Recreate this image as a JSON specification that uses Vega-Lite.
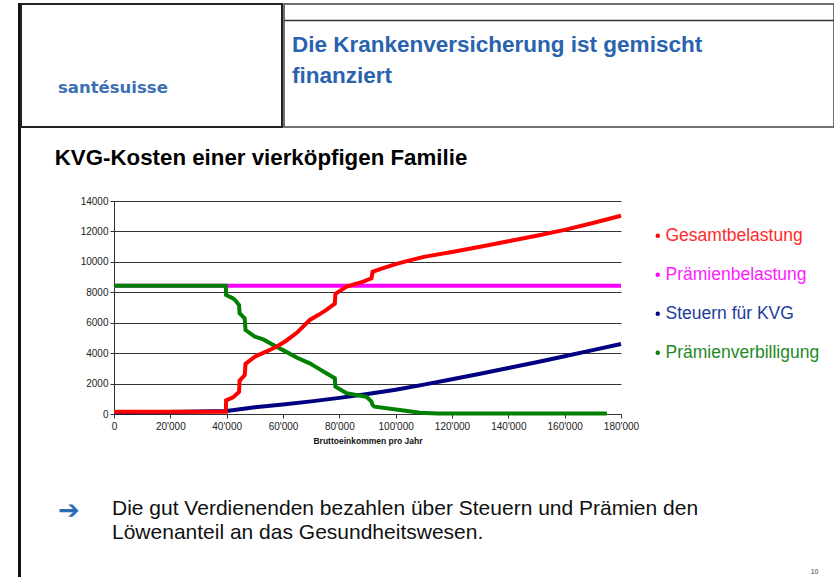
{
  "$schema": "https://vega.github.io/schema/vega-lite/v6.json",
  "background": "white",
  "padding": {"left": 18, "top": 3, "right": 0, "bottom": 0},
  "spacing": -3,
  "config": {
    "font": "Liberation Sans",
    "view": {"stroke": null},
    "concat": {"spacing": 0}
  },
  "hconcat": [
    {
      "width": 1,
      "height": 572,
      "view": {"stroke": "#111111", "strokeWidth": 2},
      "data": {"values": [{}]},
      "mark": {"type": "text", "text": ""}
    },
    {
      "spacing": 0,
      "vconcat": [
        {
          "spacing": 0,
          "hconcat": [
            {
              "width": 261,
              "height": 123,
              "view": {"stroke": "#222222", "strokeWidth": 2},
              "data": {"values": [{}]},
              "mark": {"type": "text", "text": ""},
              "title": {
                "text": "santésuisse",
                "orient": "top",
                "anchor": "start",
                "frame": "group",
                "dx": 37,
                "offset": -105.5,
                "baseline": "alphabetic",
                "font": "DejaVu Sans",
                "fontSize": 16.5,
                "fontWeight": "bold",
                "color": "#3D6FB5"
              }
            },
            {
              "width": 550,
              "height": 123,
              "view": {"stroke": "#444444", "strokeWidth": 1.5},
              "data": {"values": [{"v": 0.5}]},
              "mark": {"type": "point", "opacity": 0, "size": 0},
              "encoding": {
                "x": {
                  "field": "v",
                  "type": "quantitative",
                  "scale": {"domain": [0, 1]},
                  "axis": {
                    "orient": "top",
                    "offset": -16,
                    "title": null,
                    "labels": false,
                    "ticks": false,
                    "grid": false,
                    "domain": true,
                    "domainColor": "#333333",
                    "domainWidth": 1.5
                  }
                }
              },
              "title": {
                "text": ["Die Krankenversicherung ist gemischt", "finanziert"],
                "orient": "top",
                "anchor": "start",
                "frame": "group",
                "dx": 8,
                "offset": -101.25,
                "baseline": "alphabetic",
                "lineHeight": 31,
                "font": "Liberation Sans",
                "fontSize": 22.5,
                "fontWeight": "bold",
                "color": "#2962AE"
              }
            }
          ]
        },
        {
          "spacing": 0,
          "hconcat": [
            {
              "width": 33,
              "height": 1,
              "data": {"values": [{}]},
              "mark": {"type": "text", "text": ""}
            },
            {
              "width": 507,
              "height": 213,
              "title": {
                "text": ["", "KVG-Kosten einer vierköpfigen Familie"],
                "orient": "top",
                "anchor": "start",
                "frame": "group",
                "dx": -59.3,
                "offset": 9.2,
                "baseline": "alphabetic",
                "lineHeight": 18,
                "font": "Liberation Sans",
                "fontSize": 22.3,
                "fontWeight": "bold",
                "color": "#000000"
              },
              "data": {
                "values": [
                  {"s": "Prämienbelastung", "i": 1, "x": 0, "y": 8430},
                  {"s": "Prämienbelastung", "i": 2, "x": 180000, "y": 8430},
                  {"s": "Steuern für KVG", "i": 10, "x": 0, "y": 100},
                  {"s": "Steuern für KVG", "i": 11, "x": 20000, "y": 130},
                  {"s": "Steuern für KVG", "i": 12, "x": 40000, "y": 200},
                  {"s": "Steuern für KVG", "i": 13, "x": 50000, "y": 440},
                  {"s": "Steuern für KVG", "i": 14, "x": 60000, "y": 620},
                  {"s": "Steuern für KVG", "i": 15, "x": 70000, "y": 830},
                  {"s": "Steuern für KVG", "i": 16, "x": 80000, "y": 1060},
                  {"s": "Steuern für KVG", "i": 17, "x": 90000, "y": 1320},
                  {"s": "Steuern für KVG", "i": 18, "x": 100000, "y": 1600},
                  {"s": "Steuern für KVG", "i": 19, "x": 110000, "y": 1930},
                  {"s": "Steuern für KVG", "i": 20, "x": 120000, "y": 2280},
                  {"s": "Steuern für KVG", "i": 21, "x": 130000, "y": 2640},
                  {"s": "Steuern für KVG", "i": 22, "x": 140000, "y": 3020},
                  {"s": "Steuern für KVG", "i": 23, "x": 150000, "y": 3400},
                  {"s": "Steuern für KVG", "i": 24, "x": 160000, "y": 3800},
                  {"s": "Steuern für KVG", "i": 25, "x": 170000, "y": 4200},
                  {"s": "Steuern für KVG", "i": 26, "x": 180000, "y": 4600},
                  {"s": "Prämienverbilligung", "i": 40, "x": 0, "y": 8430},
                  {"s": "Prämienverbilligung", "i": 41, "x": 39700, "y": 8430},
                  {"s": "Prämienverbilligung", "i": 42, "x": 39800, "y": 7820},
                  {"s": "Prämienverbilligung", "i": 43, "x": 42300, "y": 7600},
                  {"s": "Prämienverbilligung", "i": 44, "x": 43000, "y": 7490},
                  {"s": "Prämienverbilligung", "i": 45, "x": 44400, "y": 7160},
                  {"s": "Prämienverbilligung", "i": 46, "x": 44600, "y": 6620},
                  {"s": "Prämienverbilligung", "i": 47, "x": 46400, "y": 6290},
                  {"s": "Prämienverbilligung", "i": 48, "x": 46700, "y": 5520},
                  {"s": "Prämienverbilligung", "i": 49, "x": 50000, "y": 5080},
                  {"s": "Prämienverbilligung", "i": 50, "x": 53000, "y": 4900},
                  {"s": "Prämienverbilligung", "i": 51, "x": 57700, "y": 4420},
                  {"s": "Prämienverbilligung", "i": 52, "x": 62000, "y": 4000},
                  {"s": "Prämienverbilligung", "i": 53, "x": 65000, "y": 3700},
                  {"s": "Prämienverbilligung", "i": 54, "x": 69500, "y": 3330},
                  {"s": "Prämienverbilligung", "i": 55, "x": 72500, "y": 3000},
                  {"s": "Prämienverbilligung", "i": 56, "x": 75400, "y": 2680},
                  {"s": "Prämienverbilligung", "i": 57, "x": 78400, "y": 2350},
                  {"s": "Prämienverbilligung", "i": 58, "x": 78600, "y": 1800},
                  {"s": "Prämienverbilligung", "i": 59, "x": 82600, "y": 1360},
                  {"s": "Prämienverbilligung", "i": 60, "x": 86000, "y": 1250},
                  {"s": "Prämienverbilligung", "i": 61, "x": 89600, "y": 1140},
                  {"s": "Prämienverbilligung", "i": 62, "x": 91400, "y": 810},
                  {"s": "Prämienverbilligung", "i": 63, "x": 91800, "y": 590},
                  {"s": "Prämienverbilligung", "i": 64, "x": 92500, "y": 480},
                  {"s": "Prämienverbilligung", "i": 65, "x": 101500, "y": 260},
                  {"s": "Prämienverbilligung", "i": 66, "x": 108600, "y": 90},
                  {"s": "Prämienverbilligung", "i": 67, "x": 115000, "y": 40},
                  {"s": "Prämienverbilligung", "i": 68, "x": 125000, "y": 25},
                  {"s": "Prämienverbilligung", "i": 69, "x": 175000, "y": 25},
                  {"s": "Gesamtbelastung", "i": 80, "x": 0, "y": 150},
                  {"s": "Gesamtbelastung", "i": 81, "x": 39700, "y": 150},
                  {"s": "Gesamtbelastung", "i": 82, "x": 39800, "y": 900},
                  {"s": "Gesamtbelastung", "i": 83, "x": 42300, "y": 1100},
                  {"s": "Gesamtbelastung", "i": 84, "x": 44400, "y": 1450},
                  {"s": "Gesamtbelastung", "i": 85, "x": 44600, "y": 2200},
                  {"s": "Gesamtbelastung", "i": 86, "x": 46400, "y": 2550},
                  {"s": "Gesamtbelastung", "i": 87, "x": 46700, "y": 3300},
                  {"s": "Gesamtbelastung", "i": 88, "x": 50000, "y": 3770},
                  {"s": "Gesamtbelastung", "i": 89, "x": 54000, "y": 4100},
                  {"s": "Gesamtbelastung", "i": 90, "x": 57700, "y": 4420},
                  {"s": "Gesamtbelastung", "i": 91, "x": 61000, "y": 4800},
                  {"s": "Gesamtbelastung", "i": 92, "x": 65000, "y": 5350},
                  {"s": "Gesamtbelastung", "i": 93, "x": 69500, "y": 6180},
                  {"s": "Gesamtbelastung", "i": 94, "x": 72500, "y": 6500},
                  {"s": "Gesamtbelastung", "i": 95, "x": 75400, "y": 6840},
                  {"s": "Gesamtbelastung", "i": 96, "x": 78400, "y": 7250},
                  {"s": "Gesamtbelastung", "i": 97, "x": 78600, "y": 7900},
                  {"s": "Gesamtbelastung", "i": 98, "x": 82600, "y": 8370},
                  {"s": "Gesamtbelastung", "i": 99, "x": 88500, "y": 8700},
                  {"s": "Gesamtbelastung", "i": 100, "x": 91400, "y": 8920},
                  {"s": "Gesamtbelastung", "i": 101, "x": 91800, "y": 9350},
                  {"s": "Gesamtbelastung", "i": 102, "x": 95000, "y": 9550},
                  {"s": "Gesamtbelastung", "i": 103, "x": 100000, "y": 9850},
                  {"s": "Gesamtbelastung", "i": 104, "x": 105000, "y": 10100},
                  {"s": "Gesamtbelastung", "i": 105, "x": 110000, "y": 10330},
                  {"s": "Gesamtbelastung", "i": 106, "x": 120000, "y": 10650},
                  {"s": "Gesamtbelastung", "i": 107, "x": 130000, "y": 10990},
                  {"s": "Gesamtbelastung", "i": 108, "x": 140000, "y": 11350},
                  {"s": "Gesamtbelastung", "i": 109, "x": 150000, "y": 11720},
                  {"s": "Gesamtbelastung", "i": 110, "x": 160000, "y": 12100},
                  {"s": "Gesamtbelastung", "i": 111, "x": 170000, "y": 12550},
                  {"s": "Gesamtbelastung", "i": 112, "x": 180000, "y": 13030}
                ]
              },
              "mark": {"type": "line", "strokeWidth": 4, "strokeCap": "butt", "strokeJoin": "miter"},
              "encoding": {
                "x": {
                  "field": "x",
                  "type": "quantitative",
                  "scale": {"domain": [0, 180000], "nice": false, "zero": true},
                  "axis": {
                    "values": [0, 20000, 40000, 60000, 80000, 100000, 120000, 140000, 160000, 180000],
                    "labelExpr": "replace(format(datum.value, ','), ',', \"'\")",
                    "title": "Bruttoeinkommen pro Jahr",
                    "titleFont": "Liberation Sans",
                    "titleFontSize": 8.5,
                    "titleFontWeight": "bold",
                    "titleColor": "#111111",
                    "titlePadding": 5,
                    "labelFont": "Liberation Sans",
                    "labelFontSize": 10,
                    "labelColor": "#222222",
                    "labelPadding": 3,
                    "labelFlush": false,
                    "labelOverlap": false,
                    "tickSize": 4,
                    "tickColor": "#333333",
                    "domainColor": "#333333",
                    "grid": false
                  }
                },
                "y": {
                  "field": "y",
                  "type": "quantitative",
                  "scale": {"domain": [0, 14000], "nice": false},
                  "axis": {
                    "values": [0, 2000, 4000, 6000, 8000, 10000, 12000, 14000],
                    "format": "d",
                    "title": null,
                    "grid": true,
                    "gridColor": "#333333",
                    "gridOpacity": 1,
                    "gridWidth": 1,
                    "labelFont": "Liberation Sans",
                    "labelFontSize": 10,
                    "labelColor": "#222222",
                    "labelPadding": 2,
                    "tickSize": 4,
                    "tickColor": "#333333",
                    "domainColor": "#333333"
                  }
                },
                "color": {
                  "field": "s",
                  "type": "nominal",
                  "scale": {
                    "domain": ["Gesamtbelastung", "Prämienbelastung", "Steuern für KVG", "Prämienverbilligung"],
                    "range": ["#FF0000", "#FF00FF", "#000080", "#008000"]
                  },
                  "legend": {
                    "title": null,
                    "orient": "none",
                    "legendX": 630,
                    "legendY": 223,
                    "padding": 0,
                    "symbolType": "circle",
                    "symbolSize": 6,
                    "symbolStrokeWidth": 2,
                    "labelFont": "Liberation Sans",
                    "labelFontSize": 17.5,
                    "labelOffset": -1,
                    "labelLimit": 300,
                    "rowPadding": 20,
                    "labelColor": {"expr": "datum.label === 'Gesamtbelastung' ? '#FF2B2B' : datum.label === 'Prämienbelastung' ? '#FF1AFF' : datum.label === 'Steuern für KVG' ? '#1C3C9C' : '#1F8A1F'"}
                  }
                },
                "order": {"field": "i"}
              }
            }
          ]
        },
        {
          "width": 797,
          "height": 120.5,
          "data": {"values": [{"v": 0}]},
          "mark": {"type": "point", "opacity": 0},
          "encoding": {
            "x": {
              "field": "v",
              "type": "quantitative",
              "scale": {"domain": [0, 1]},
              "axis": {
                "title": "10",
                "titleFont": "Liberation Sans",
                "titleFontSize": 7,
                "titleFontWeight": "normal",
                "titleColor": "#444444",
                "titleAnchor": "end",
                "titlePadding": 2,
                "labels": false,
                "ticks": false,
                "domain": false,
                "grid": false
              }
            },
            "y": {
              "field": "v",
              "type": "quantitative",
              "scale": {"domain": [0, 1]},
              "axis": {
                "title": "➔",
                "titleAngle": 0,
                "titleFont": "DejaVu Sans",
                "titleFontSize": 26,
                "titleFontWeight": "bold",
                "titleColor": "#2A6CB8",
                "titleAlign": "center",
                "titleBaseline": "middle",
                "titleX": 47.5,
                "titleY": 65,
                "labels": false,
                "ticks": false,
                "domain": false,
                "grid": false
              }
            }
          },
          "title": {
            "text": ["Die gut Verdienenden bezahlen über Steuern und Prämien den", "Löwenanteil an das Gesundheitswesen."],
            "orient": "top",
            "anchor": "start",
            "frame": "group",
            "dx": 91,
            "offset": -115,
            "baseline": "alphabetic",
            "lineHeight": 24.5,
            "font": "Liberation Sans",
            "fontSize": 21,
            "fontWeight": "normal",
            "color": "#111111"
          }
        }
      ]
    }
  ]
}
